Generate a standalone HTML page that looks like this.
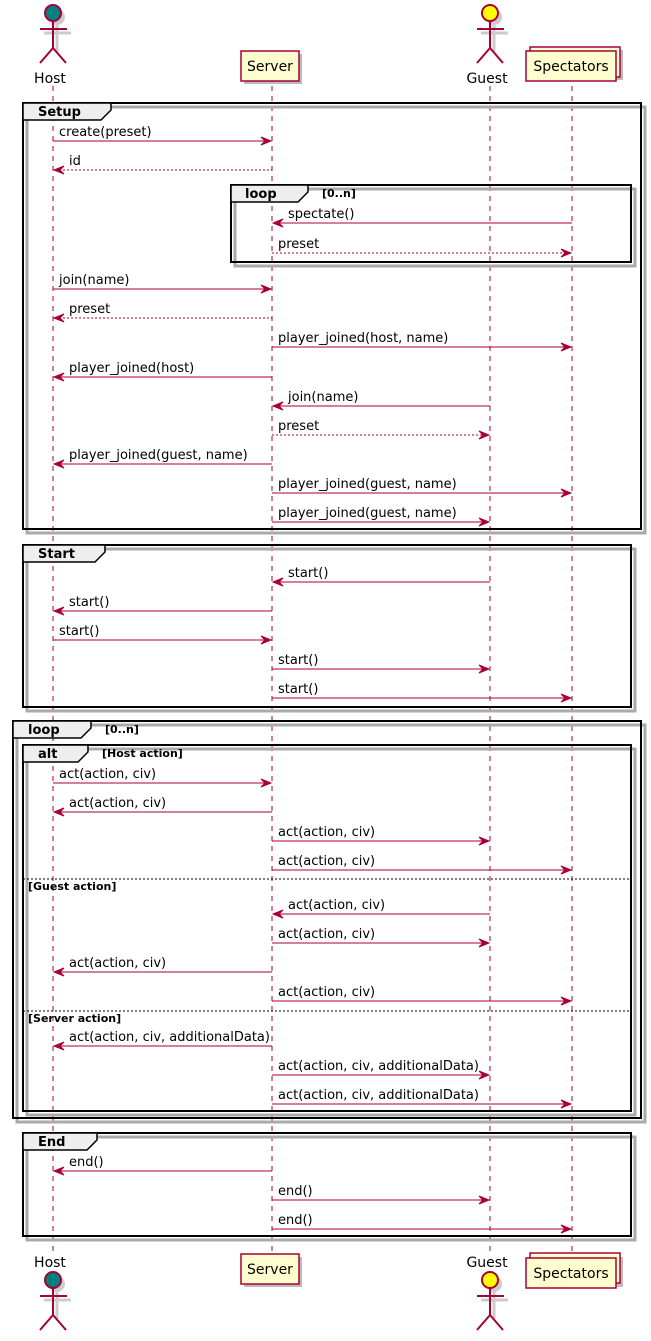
<!DOCTYPE html>
<html><head><meta charset="utf-8"><style>
html,body{margin:0;padding:0;background:#fff;}
svg{display:block;}
text{font-family:"DejaVu Sans","Liberation Sans",sans-serif;}
.m{font-size:13px;fill:#000;}
.p{font-size:14px;fill:#000;}
.t{font-size:13px;font-weight:bold;fill:#000;}
.g{font-size:11px;font-weight:bold;fill:#000;}
.a{stroke:#A80036;stroke-width:1;fill:none;}
.d{stroke:#A80036;stroke-width:1;fill:none;stroke-dasharray:2,2;}
.h{fill:#A80036;stroke:#A80036;}
.ll{stroke:#A80036;stroke-width:1;stroke-dasharray:5,5;}
.f{fill:none;stroke:#000;stroke-width:2;}
.fs{fill:none;stroke:#aaa;stroke-width:3;}
.tab{fill:#EEEEEE;stroke:#000;stroke-width:1.5;}
.sep{stroke:#000;stroke-width:1;stroke-dasharray:2,2;}
.box{fill:#FEFECE;stroke:#A80036;stroke-width:1.5;}
.bs{fill:#bbb;}
</style></head><body>
<svg width="651" height="1341" viewBox="0 0 651 1341" xmlns="http://www.w3.org/2000/svg">
<defs>
<g id="actor">
  <circle cx="4" cy="4" r="8" fill="#ccc"/>
  <line x1="4" y1="12" x2="4" y2="39" stroke="#ccc" stroke-width="3"/>
  <line x1="-9" y1="20" x2="18" y2="20" stroke="#ccc" stroke-width="3"/>
  <circle cx="0" cy="0" r="8" stroke="#A80036" stroke-width="2"/>
  <line x1="0" y1="8" x2="0" y2="35" stroke="#A80036" stroke-width="2"/>
  <line x1="-13" y1="16" x2="14" y2="16" stroke="#A80036" stroke-width="2"/>
  <line x1="0" y1="35" x2="-13" y2="50" stroke="#A80036" stroke-width="2"/>
  <line x1="0" y1="35" x2="13" y2="50" stroke="#A80036" stroke-width="2"/>
</g>
</defs>

<line class="ll" x1="53" y1="86" x2="53" y2="1252"/>
<line class="ll" x1="272" y1="86" x2="272" y2="1252"/>
<line class="ll" x1="490" y1="86" x2="490" y2="1252"/>
<line class="ll" x1="572" y1="86" x2="572" y2="1252"/>

<use href="#actor" x="53" y="13" fill="#008080"/>
<text x="50" y="83" class="p" text-anchor="middle">Host</text>
<rect x="244" y="54" width="58" height="30" class="bs"/>
<rect x="241" y="51" width="58" height="30" class="box"/>
<text x="270" y="71" class="p" text-anchor="middle">Server</text>
<use href="#actor" x="490" y="13" fill="#FFFF00"/>
<text x="487" y="83" class="p" text-anchor="middle">Guest</text>
<rect x="533" y="50" width="90" height="30" class="bs"/>
<rect x="530" y="47" width="90" height="30" class="box"/>
<rect x="526" y="51" width="90" height="30" class="box"/>
<text x="571" y="71" class="p" text-anchor="middle">Spectators</text>

<text x="50" y="1267" class="p" text-anchor="middle">Host</text>
<use href="#actor" x="53" y="1280" fill="#008080"/>
<rect x="244" y="1257" width="58" height="30" class="bs"/>
<rect x="241" y="1254" width="58" height="30" class="box"/>
<text x="270" y="1274" class="p" text-anchor="middle">Server</text>
<text x="487" y="1267" class="p" text-anchor="middle">Guest</text>
<use href="#actor" x="490" y="1280" fill="#FFFF00"/>
<rect x="533" y="1257" width="90" height="30" class="bs"/>
<rect x="530" y="1253" width="90" height="30" class="box"/>
<rect x="526" y="1258" width="90" height="30" class="box"/>
<text x="571" y="1278" class="p" text-anchor="middle">Spectators</text>

<rect x="27" y="107" width="618" height="426" class="fs"/>
<rect x="235" y="189" width="400" height="77" class="fs"/>
<rect x="27" y="549" width="608" height="162" class="fs"/>
<rect x="17" y="725" width="628" height="397" class="fs"/>
<rect x="27" y="1137" width="608" height="103" class="fs"/>

<rect x="23" y="103" width="618" height="426" class="f"/>
<path d="M23,103 L111,103 L111,110 L101,120 L23,120 Z" class="tab"/>
<text x="38" y="116" class="t">Setup</text>
<rect x="231" y="185" width="400" height="77" class="f"/>
<path d="M231,185 L308,185 L308,192 L298,202 L231,202 Z" class="tab"/>
<text x="245" y="198" class="t">loop</text>
<text x="322" y="197" class="g">[0..n]</text>
<rect x="23" y="545" width="608" height="162" class="f"/>
<path d="M23,545 L105,545 L105,552 L95,562 L23,562 Z" class="tab"/>
<text x="38" y="558" class="t">Start</text>
<rect x="13" y="721" width="628" height="397" class="f"/>
<path d="M13,721 L91,721 L91,728 L81,738 L13,738 Z" class="tab"/>
<text x="28" y="734" class="t">loop</text>
<text x="105" y="733" class="g">[0..n]</text>
<rect x="27" y="749" width="608" height="366" class="fs"/>
<rect x="23" y="745" width="608" height="366" class="f"/>
<path d="M23,745 L88,745 L88,752 L78,762 L23,762 Z" class="tab"/>
<text x="38" y="758" class="t">alt</text>
<text x="102" y="757" class="g">[Host action]</text>
<line x1="23" y1="879" x2="631" y2="879" class="sep"/>
<text x="28" y="890" class="g">[Guest action]</text>
<line x1="23" y1="1011" x2="631" y2="1011" class="sep"/>
<text x="28" y="1022" class="g">[Server action]</text>
<rect x="23" y="1133" width="608" height="103" class="f"/>
<path d="M23,1133 L97,1133 L97,1140 L87,1150 L23,1150 Z" class="tab"/>
<text x="38" y="1146" class="t">End</text>

<g>
<line class="a" x1="53" y1="141" x2="271" y2="141"/><path class="h" d="M261,137 L271,141 L261,145 L265,141 Z"/><text class="m" x="59" y="136">create(preset)</text>
<line class="d" x1="55" y1="170" x2="272" y2="170"/><path class="h" d="M64,166 L54,170 L64,174 L60,170 Z"/><text class="m" x="69" y="165">id</text>
<line class="a" x1="274" y1="223" x2="572" y2="223"/><path class="h" d="M283,219 L273,223 L283,227 L279,223 Z"/><text class="m" x="288" y="218">spectate()</text>
<line class="d" x1="272" y1="253" x2="570" y2="253"/><path class="h" d="M561,249 L571,253 L561,257 L565,253 Z"/><text class="m" x="278" y="248">preset</text>
<line class="a" x1="53" y1="289" x2="270" y2="289"/><path class="h" d="M261,285 L271,289 L261,293 L265,289 Z"/><text class="m" x="59" y="284">join(name)</text>
<line class="d" x1="55" y1="318" x2="272" y2="318"/><path class="h" d="M64,314 L54,318 L64,322 L60,318 Z"/><text class="m" x="69" y="313">preset</text>
<line class="a" x1="272" y1="347" x2="570" y2="347"/><path class="h" d="M561,343 L571,347 L561,351 L565,347 Z"/><text class="m" x="278" y="342">player_joined(host, name)</text>
<line class="a" x1="55" y1="377" x2="272" y2="377"/><path class="h" d="M64,373 L54,377 L64,381 L60,377 Z"/><text class="m" x="69" y="372">player_joined(host)</text>
<line class="a" x1="274" y1="406" x2="490" y2="406"/><path class="h" d="M283,402 L273,406 L283,410 L279,406 Z"/><text class="m" x="288" y="401">join(name)</text>
<line class="d" x1="272" y1="435" x2="488" y2="435"/><path class="h" d="M479,431 L489,435 L479,439 L483,435 Z"/><text class="m" x="278" y="430">preset</text>
<line class="a" x1="55" y1="464" x2="272" y2="464"/><path class="h" d="M64,460 L54,464 L64,468 L60,464 Z"/><text class="m" x="69" y="459">player_joined(guest, name)</text>
<line class="a" x1="272" y1="493" x2="570" y2="493"/><path class="h" d="M561,489 L571,493 L561,497 L565,493 Z"/><text class="m" x="278" y="488">player_joined(guest, name)</text>
<line class="a" x1="272" y1="522" x2="488" y2="522"/><path class="h" d="M479,518 L489,522 L479,526 L483,522 Z"/><text class="m" x="278" y="517">player_joined(guest, name)</text>

<line class="a" x1="274" y1="582" x2="490" y2="582"/><path class="h" d="M283,578 L273,582 L283,586 L279,582 Z"/><text class="m" x="288" y="577">start()</text>
<line class="a" x1="55" y1="611" x2="272" y2="611"/><path class="h" d="M64,607 L54,611 L64,615 L60,611 Z"/><text class="m" x="69" y="606">start()</text>
<line class="a" x1="53" y1="640" x2="270" y2="640"/><path class="h" d="M261,636 L271,640 L261,644 L265,640 Z"/><text class="m" x="59" y="635">start()</text>
<line class="a" x1="272" y1="669" x2="488" y2="669"/><path class="h" d="M479,665 L489,669 L479,673 L483,669 Z"/><text class="m" x="278" y="664">start()</text>
<line class="a" x1="272" y1="698" x2="570" y2="698"/><path class="h" d="M561,694 L571,698 L561,702 L565,698 Z"/><text class="m" x="278" y="693">start()</text>

<line class="a" x1="53" y1="783" x2="270" y2="783"/><path class="h" d="M261,779 L271,783 L261,787 L265,783 Z"/><text class="m" x="59" y="778">act(action, civ)</text>
<line class="a" x1="55" y1="812" x2="272" y2="812"/><path class="h" d="M64,808 L54,812 L64,816 L60,812 Z"/><text class="m" x="69" y="807">act(action, civ)</text>
<line class="a" x1="272" y1="841" x2="488" y2="841"/><path class="h" d="M479,837 L489,841 L479,845 L483,841 Z"/><text class="m" x="278" y="836">act(action, civ)</text>
<line class="a" x1="272" y1="870" x2="570" y2="870"/><path class="h" d="M561,866 L571,870 L561,874 L565,870 Z"/><text class="m" x="278" y="865">act(action, civ)</text>

<line class="a" x1="274" y1="914" x2="490" y2="914"/><path class="h" d="M283,910 L273,914 L283,918 L279,914 Z"/><text class="m" x="288" y="909">act(action, civ)</text>
<line class="a" x1="272" y1="943" x2="488" y2="943"/><path class="h" d="M479,939 L489,943 L479,947 L483,943 Z"/><text class="m" x="278" y="938">act(action, civ)</text>
<line class="a" x1="55" y1="972" x2="272" y2="972"/><path class="h" d="M64,968 L54,972 L64,976 L60,972 Z"/><text class="m" x="69" y="967">act(action, civ)</text>
<line class="a" x1="272" y1="1001" x2="570" y2="1001"/><path class="h" d="M561,997 L571,1001 L561,1005 L565,1001 Z"/><text class="m" x="278" y="996">act(action, civ)</text>

<line class="a" x1="55" y1="1046" x2="272" y2="1046"/><path class="h" d="M64,1042 L54,1046 L64,1050 L60,1046 Z"/><text class="m" x="69" y="1041">act(action, civ, additionalData)</text>
<line class="a" x1="272" y1="1075" x2="488" y2="1075"/><path class="h" d="M479,1071 L489,1075 L479,1079 L483,1075 Z"/><text class="m" x="278" y="1070">act(action, civ, additionalData)</text>
<line class="a" x1="272" y1="1104" x2="570" y2="1104"/><path class="h" d="M561,1100 L571,1104 L561,1108 L565,1104 Z"/><text class="m" x="278" y="1099">act(action, civ, additionalData)</text>

<line class="a" x1="55" y1="1171" x2="272" y2="1171"/><path class="h" d="M64,1167 L54,1171 L64,1175 L60,1171 Z"/><text class="m" x="69" y="1166">end()</text>
<line class="a" x1="272" y1="1200" x2="488" y2="1200"/><path class="h" d="M479,1196 L489,1200 L479,1204 L483,1200 Z"/><text class="m" x="278" y="1195">end()</text>
<line class="a" x1="272" y1="1229" x2="570" y2="1229"/><path class="h" d="M561,1225 L571,1229 L561,1233 L565,1229 Z"/><text class="m" x="278" y="1224">end()</text>
</g>
</svg>
</body></html>
